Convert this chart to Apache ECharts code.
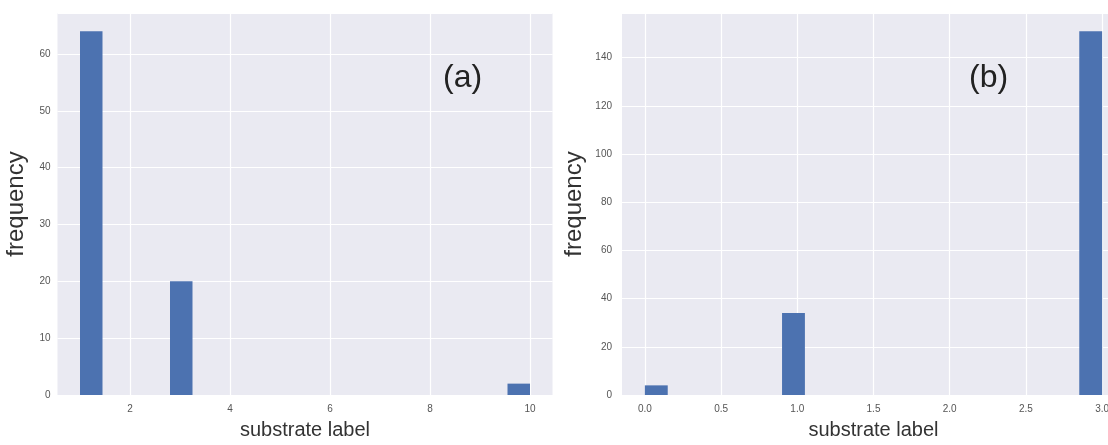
<!DOCTYPE html>
<html>
<head>
<meta charset="utf-8">
<title>substrate label histograms</title>
<script src="https://cdn.jsdelivr.net/npm/echarts@6/dist/echarts.min.js"></script>
<style>
  html, body { margin: 0; padding: 0; background: #ffffff; overflow: hidden; }
  /* the right panel runs a little past the page edge */
  #chart { width: 1126px; height: 445px; }
</style>
</head>
<body>
<div id="chart"></div>
<script>
// Panel (a): substrate labels and how often each occurs
const labelsA = [1, 3, 10];
const countsA = [64, 20, 2];
const xTicksA = [2, 4, 6, 8, 10];

// Panel (b)
const labelsB = [0, 1, 3];
const countsB = [4, 34, 151];
const xTicksB = [0, 0.5, 1.0, 1.5, 2.0, 2.5, 3.0];

const BIN_COUNT = 20;
const BAR_COLOR = '#4C72B0';
const PANEL_BG = '#EAEAF2';
const FONT = '"Liberation Sans", Arial, sans-serif';

// Place each label into one of BIN_COUNT equal bins spanning [min, max]
function histogramBins(labels, counts) {
  const lo = Math.min(...labels), hi = Math.max(...labels);
  const w = (hi - lo) / BIN_COUNT;
  const rows = labels.map((v, i) => {
    const k = Math.min(Math.floor((v - lo) / w + 1e-9), BIN_COUNT - 1);
    return [lo + k * w, lo + (k + 1) * w, counts[i]];
  });
  return { rows, lo, hi, w };
}

const histA = histogramBins(labelsA, countsA);
const histB = histogramBins(labelsB, countsB);

function renderBin(params, api) {
  const a = api.coord([api.value(0), api.value(2)]);
  const b = api.coord([api.value(1), 0]);
  return {
    type: 'rect',
    shape: { x: a[0], y: a[1], width: b[0] - a[0], height: b[1] - a[1] },
    style: { fill: BAR_COLOR }
  };
}

const tickLabel = { color: '#555', fontSize: 10, fontFamily: FONT };
const gridLine = { show: true, lineStyle: { color: '#ffffff', width: 1.2 } };

function xAxisFor(hist, ticks, decimals, idx) {
  return {
    type: 'value',
    gridIndex: idx,
    min: hist.lo - hist.w,
    max: hist.hi + hist.w,
    axisLine: { show: false },
    axisTick: { show: false, customValues: ticks },
    axisLabel: Object.assign({}, tickLabel, {
      margin: 9,
      customValues: ticks,
      formatter: v => decimals ? Number(v).toFixed(decimals) : String(v)
    }),
    splitLine: gridLine,
    name: 'substrate label',
    nameLocation: 'middle',
    nameGap: 25,
    nameTextStyle: { fontSize: 20, color: '#333', fontFamily: FONT }
  };
}

function yAxisFor(counts, step, idx, labelMargin, nameGap) {
  const top = Math.max(...counts) * 1.05;
  return {
    type: 'value',
    gridIndex: idx,
    min: 0,
    max: top,
    interval: step,
    axisLine: { show: false },
    axisTick: { show: false },
    axisLabel: Object.assign({}, tickLabel, {
      margin: labelMargin,
      showMaxLabel: false,
      formatter: v => (v % step === 0 ? String(v) : '')
    }),
    splitLine: gridLine,
    name: 'frequency',
    nameLocation: 'middle',
    nameGap: nameGap,
    nameTextStyle: { fontSize: 24, color: '#333', fontFamily: FONT }
  };
}

const chart = echarts.init(document.getElementById('chart'), null, { renderer: 'canvas' });

chart.setOption({
  backgroundColor: '#ffffff',
  animation: false,
  grid: [
    { left: 57.5, top: 13, width: 495, height: 385, show: true, backgroundColor: PANEL_BG, borderWidth: 0 },
    { left: 622, top: 13, width: 503, height: 386, show: true, backgroundColor: PANEL_BG, borderWidth: 0 }
  ],
  xAxis: [
    xAxisFor(histA, xTicksA, 0, 0),
    xAxisFor(histB, xTicksB, 1, 1)
  ],
  yAxis: [
    yAxisFor(countsA, 10, 0, 7, 29),
    yAxisFor(countsB, 20, 1, 10, 36)
  ],
  series: [
    { type: 'custom', xAxisIndex: 0, yAxisIndex: 0, data: histA.rows, renderItem: renderBin,
      encode: { x: [0, 1], y: 2 }, silent: true },
    { type: 'custom', xAxisIndex: 1, yAxisIndex: 1, data: histB.rows, renderItem: renderBin,
      encode: { x: [0, 1], y: 2 }, silent: true }
  ],
  graphic: [
    { type: 'text', left: 443, top: 62, z: 100,
      style: { text: '(a)', fontSize: 32, fill: '#222', fontFamily: FONT } },
    { type: 'text', left: 969, top: 62, z: 100,
      style: { text: '(b)', fontSize: 32, fill: '#222', fontFamily: FONT } }
  ]
});
</script>
</body>
</html>
